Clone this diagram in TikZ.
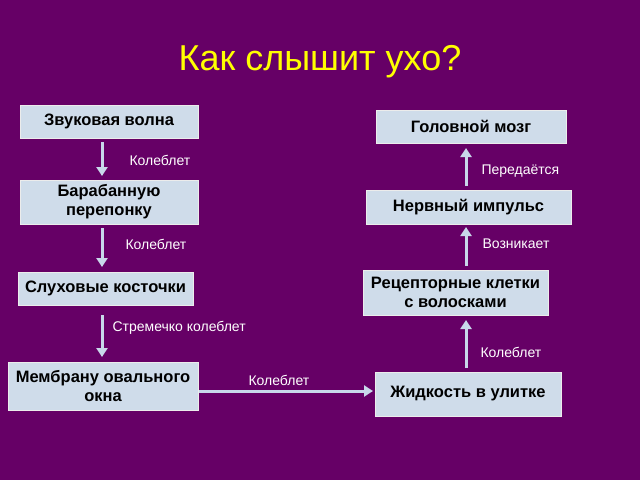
\documentclass[tikz,border=0pt]{standalone}
\usepackage{fontspec}
\setmainfont{Liberation Sans}
\usetikzlibrary{arrows.meta}
\definecolor{bg}{HTML}{660066}
\definecolor{boxc}{HTML}{CFDCEA}
\definecolor{arr}{HTML}{C8D8EA}
\tikzset{
  box/.style={draw=white!85!gray, line width=1pt, fill=boxc, font=\fontsize{16.5}{19}\selectfont\bfseries, align=center, inner sep=0pt},
  lab/.style={text=white, font=\fontsize{14}{16}\selectfont, anchor=west},
  conn/.style={draw=arr, line width=3pt, -{Triangle[length=9pt,width=11pt]}}
}
\begin{document}
\begin{tikzpicture}[x=1pt,y=-1pt]
\fill[bg] (0,0) rectangle (640,480);
\useasboundingbox (0,0) rectangle (640,480);
\node[text={rgb,255:red,255;green,255;blue,0}, font=\fontsize{36}{40}\selectfont] (t) at (320,62) {Как слышит ухо?};
\node[box, minimum width=178pt, minimum height=33pt] (a) at (109,121.5) {Звуковая волна};
\node[box, minimum width=178pt, minimum height=44pt] (b) at (109,202) {Барабанную\\перепонку};
\node[box, minimum width=175pt, minimum height=33pt] (c) at (105.5,288.5) {Слуховые косточки};
\node[box, minimum width=190pt, minimum height=48pt] (d) at (103,386) {Мембрану овального\\окна};
\node[box, minimum width=186pt, minimum height=44pt] (e) at (468,394) {Жидкость в улитке};
\node[box, minimum width=185pt, minimum height=45pt] (f) at (455.5,292.5) {Рецепторные клетки\\с волосками};
\node[box, minimum width=205pt, minimum height=34pt] (g) at (468.5,207) {Нервный импульс};
\node[box, minimum width=190pt, minimum height=33pt] (h) at (471,126.5) {Головной мозг};
\coordinate (a1) at (102,142); \coordinate (b0) at (102,176);
\coordinate (b1) at (102,228); \coordinate (c0) at (102,267);
\coordinate (c1) at (102,315); \coordinate (d0) at (102,357);
\coordinate (d1) at (199,391); \coordinate (e1) at (373,391);
\coordinate (e0) at (466,368); \coordinate (f1) at (466,320);
\coordinate (f0) at (466,266); \coordinate (g1) at (466,227);
\coordinate (g0) at (466,186); \coordinate (h1) at (466,148);
\draw[conn] (a1) -- (b0);
\draw[conn] (b1) -- (c0);
\draw[conn] (c1) -- (d0);
\draw[conn] (d1) -- (e1);
\draw[conn] (e0) -- (f1);
\draw[conn] (f0) -- (g1);
\draw[conn] (g0) -- (h1);
\node[lab] (l1) at (126,160) {Колеблет};
\node[lab] (l2) at (122,244) {Колеблет};
\node[lab] (l3) at (109,328) {Стремечко колеблет};
\node[lab] (l4) at (245,380) {Колеблет};
\node[lab] (l5) at (477,352) {Колеблет};
\node[lab] (l6) at (479,244) {Возникает};
\node[lab] (l7) at (478,171) {Передаётся};
\end{tikzpicture}
\end{document}
